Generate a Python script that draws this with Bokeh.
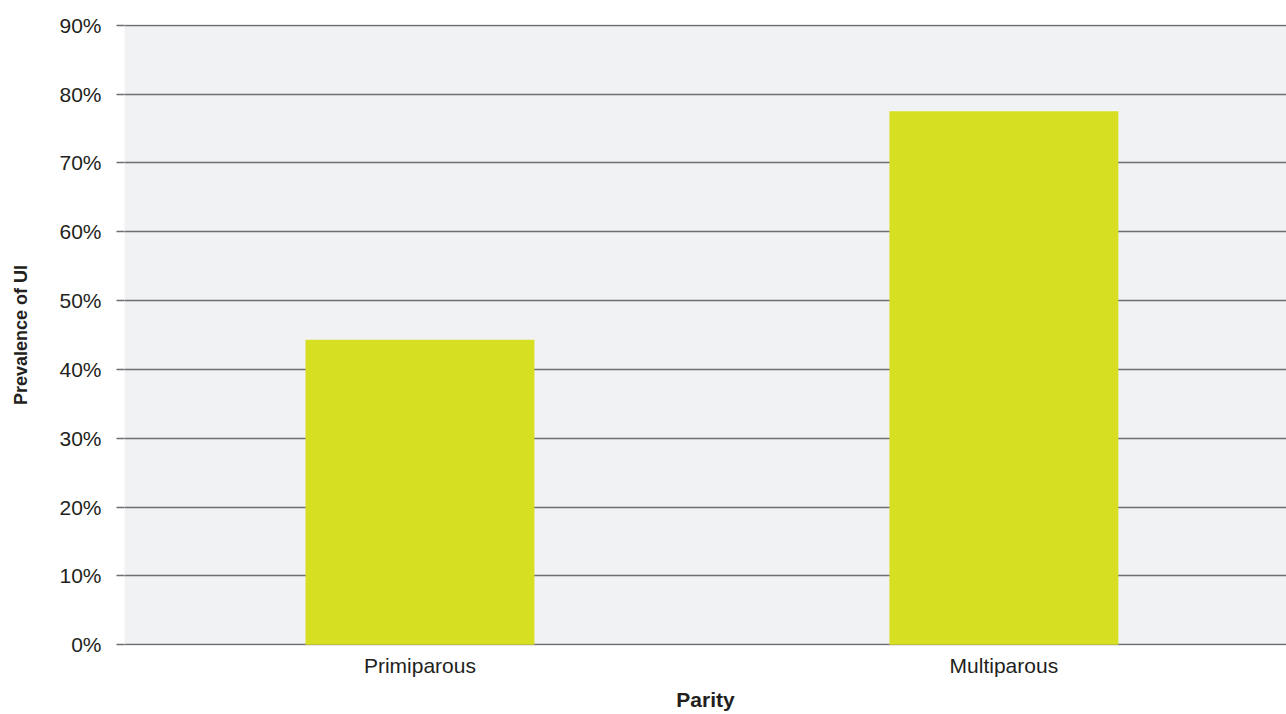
from bokeh.plotting import figure
from bokeh.models import FixedTicker, PrintfTickFormatter, ColumnDataSource, Range1d
from bokeh.embed import file_html
from bokeh.resources import INLINE

categories = ["Primiparous", "Multiparous"]
prevalence = [44.3, 77.5]
y_ticks = [0, 10, 20, 30, 40, 50, 60, 70, 80, 90]

positions = [i + 0.5 for i in range(len(categories))]
src = ColumnDataSource(dict(x=positions, cat=categories, val=prevalence))

p = figure(width=1286, height=714, x_range=Range1d(-0.006, 1.984),
           y_range=Range1d(-0.12, 90.12), output_backend="svg", toolbar_location=None,
           min_border_left=124, min_border_right=0, min_border_top=24, min_border_bottom=69)
p.background_fill_color = "#f1f2f4"
p.border_fill_color = "white"
p.outline_line_color = None

p.vbar(x="x", top="val", width=0.392, source=src, color="#d7df23", line_color=None)

font = "Liberation Sans"
txt = "#231f20"
grid = "#6d6e71"

p.xgrid.grid_line_color = None
p.ygrid.grid_line_color = grid
p.ygrid.grid_line_width = 1.4
p.ygrid.ticker = FixedTicker(ticks=y_ticks)

p.yaxis.ticker = FixedTicker(ticks=y_ticks)
p.yaxis.formatter = PrintfTickFormatter(format="%d%%")
p.yaxis.axis_line_color = None
p.yaxis.major_tick_line_color = grid
p.yaxis.major_tick_line_width = 1.4
p.yaxis.major_tick_out = 8
p.yaxis.major_tick_in = 0
p.yaxis.minor_tick_line_color = None
p.yaxis.major_label_standoff = 15
p.yaxis.axis_label = "Prevalence of UI"
p.yaxis.axis_label_standoff = 25
p.yaxis.axis_label_text_font_size = "18px"

p.xaxis.ticker = FixedTicker(ticks=positions)
p.xaxis.major_label_overrides = {pos: cat for pos, cat in zip(positions, categories)}
p.xaxis.axis_line_color = None
p.xaxis.major_tick_line_color = None
p.xaxis.minor_tick_line_color = None
p.xaxis.major_label_standoff = 2
p.xaxis.axis_label = "Parity"
p.xaxis.axis_label_standoff = 8
p.xaxis.axis_label_text_font_size = "21px"

for ax in (p.xaxis, p.yaxis):
    ax.major_label_text_font = font
    ax.major_label_text_font_size = "21px"
    ax.major_label_text_color = txt
    ax.axis_label_text_font = font
    ax.axis_label_text_font_style = "bold"
    ax.axis_label_text_color = txt

open("out.html", "w").write(file_html(p, INLINE))
